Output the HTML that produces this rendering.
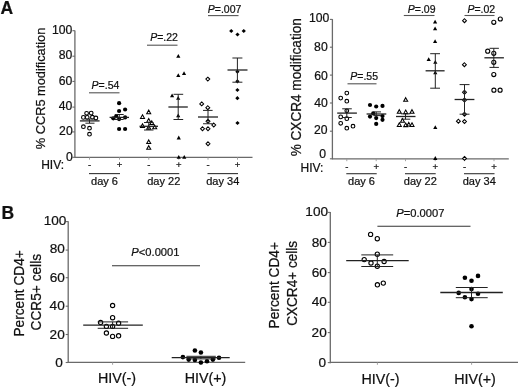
<!DOCTYPE html>
<html><head><meta charset="utf-8"><style>
html,body{margin:0;padding:0;background:#fff;}
body{width:520px;height:388px;overflow:hidden;}
svg{display:block;filter:grayscale(1) blur(0.25px);font-family:"Liberation Sans", sans-serif;fill:#111;}
text{fill:#111;stroke:#111;stroke-width:0.22px;}
</style></head><body>
<svg width="520" height="388" viewBox="0 0 520 388">
<rect width="520" height="388" fill="#fff"/>
<text x="0.5" y="13.8" font-size="17.5" text-anchor="start" font-weight="bold">A</text>
<text x="1.5" y="218.6" font-size="17.5" text-anchor="start" font-weight="bold">B</text>
<line x1="74.9" y1="157.9" x2="74.9" y2="30.4" stroke="#6a6a6a" stroke-width="1.3"/>
<line x1="72.4" y1="30.7" x2="74.9" y2="30.7" stroke="#6a6a6a" stroke-width="1.1"/>
<text x="72.38" y="33.65" font-size="12.2" text-anchor="end">100</text>
<line x1="72.4" y1="56.2" x2="74.9" y2="56.2" stroke="#6a6a6a" stroke-width="1.1"/>
<text x="72.38" y="58.8" font-size="12.2" text-anchor="end">80</text>
<line x1="72.4" y1="81.4" x2="74.9" y2="81.4" stroke="#6a6a6a" stroke-width="1.1"/>
<text x="72.38" y="84.75" font-size="12.2" text-anchor="end">60</text>
<line x1="72.4" y1="107.1" x2="74.9" y2="107.1" stroke="#6a6a6a" stroke-width="1.1"/>
<text x="72.38" y="109.55" font-size="12.2" text-anchor="end">40</text>
<line x1="72.4" y1="131.9" x2="74.9" y2="131.9" stroke="#6a6a6a" stroke-width="1.1"/>
<text x="72.68" y="135.35" font-size="12.2" text-anchor="end">20</text>
<line x1="72.4" y1="157.3" x2="74.9" y2="157.3" stroke="#6a6a6a" stroke-width="1.1"/>
<text x="72.88" y="160.75" font-size="12.2" text-anchor="end">0</text>
<line x1="74.9" y1="157.3" x2="252.5" y2="157.3" stroke="#6a6a6a" stroke-width="1.3"/>
<line x1="89.5" y1="157.3" x2="89.5" y2="159.70000000000002" stroke="#999" stroke-width="0.9"/>
<line x1="119.5" y1="157.3" x2="119.5" y2="159.70000000000002" stroke="#999" stroke-width="0.9"/>
<line x1="148.75" y1="157.3" x2="148.75" y2="159.70000000000002" stroke="#999" stroke-width="0.9"/>
<line x1="178.75" y1="157.3" x2="178.75" y2="159.70000000000002" stroke="#999" stroke-width="0.9"/>
<line x1="208" y1="157.3" x2="208" y2="159.70000000000002" stroke="#999" stroke-width="0.9"/>
<line x1="237.5" y1="157.3" x2="237.5" y2="159.70000000000002" stroke="#999" stroke-width="0.9"/>
<text transform="translate(44.6,88.45) rotate(-90) scale(1,1.045)" font-size="12.8" text-anchor="middle">% CCR5 modification</text>
<text x="41.2" y="168.8" font-size="12" text-anchor="start">HIV:</text>
<text x="89.5" y="168.0" font-size="9.5" text-anchor="middle">-</text>
<text x="119.5" y="168.0" font-size="9.5" text-anchor="middle">+</text>
<text x="148.75" y="168.0" font-size="9.5" text-anchor="middle">-</text>
<text x="178.75" y="168.0" font-size="9.5" text-anchor="middle">+</text>
<text x="208" y="168.0" font-size="9.5" text-anchor="middle">-</text>
<text x="237.5" y="168.0" font-size="9.5" text-anchor="middle">+</text>
<line x1="89.0" y1="173.6" x2="120.0" y2="173.6" stroke="#333" stroke-width="1.1"/>
<text x="104.5" y="185.0" font-size="11" text-anchor="middle">day 6</text>
<line x1="148.25" y1="173.6" x2="179.25" y2="173.6" stroke="#333" stroke-width="1.1"/>
<text x="163.75" y="185.0" font-size="11" text-anchor="middle">day 22</text>
<line x1="207.5" y1="173.6" x2="238.0" y2="173.6" stroke="#333" stroke-width="1.1"/>
<text x="222.75" y="185.0" font-size="11" text-anchor="middle">day 34</text>
<line x1="89" y1="92.8" x2="119.5" y2="92.8" stroke="#555" stroke-width="1.1"/>
<text x="91.6" y="89.4" font-size="10.5"><tspan font-style="italic">P</tspan>=.54</text>
<line x1="147" y1="45.2" x2="177.5" y2="45.2" stroke="#555" stroke-width="1.1"/>
<text x="150.2" y="41.4" font-size="10.5"><tspan font-style="italic">P</tspan>=.22</text>
<line x1="208" y1="15.6" x2="238.5" y2="15.6" stroke="#555" stroke-width="1.1"/>
<text x="207.8" y="13.2" font-size="10.5"><tspan font-style="italic">P</tspan>=.007</text>
<circle cx="86.6" cy="113.3" r="1.85" fill="#fff" stroke="#000" stroke-width="1.1"/>
<circle cx="91.2" cy="113.1" r="1.85" fill="#fff" stroke="#000" stroke-width="1.1"/>
<circle cx="83.4" cy="117.4" r="1.85" fill="#fff" stroke="#000" stroke-width="1.1"/>
<circle cx="87.2" cy="117.4" r="1.85" fill="#fff" stroke="#000" stroke-width="1.1"/>
<circle cx="92.4" cy="117.2" r="1.85" fill="#fff" stroke="#000" stroke-width="1.1"/>
<circle cx="95.9" cy="118" r="1.85" fill="#fff" stroke="#000" stroke-width="1.1"/>
<circle cx="83.4" cy="126.7" r="1.85" fill="#fff" stroke="#000" stroke-width="1.1"/>
<circle cx="89.5" cy="128.2" r="1.85" fill="#fff" stroke="#000" stroke-width="1.1"/>
<circle cx="89.5" cy="134.2" r="1.85" fill="#fff" stroke="#000" stroke-width="1.1"/>
<line x1="79.9" y1="120.9" x2="99.6" y2="120.9" stroke="#222" stroke-width="1.3"/>
<line x1="89.5" y1="119.0" x2="89.5" y2="123.2" stroke="#222" stroke-width="1.0"/>
<line x1="85.4" y1="119.0" x2="94.5" y2="119.0" stroke="#222" stroke-width="1.0"/>
<line x1="85.4" y1="123.2" x2="94.5" y2="123.2" stroke="#222" stroke-width="1.0"/>
<circle cx="119.1" cy="103.2" r="2.10" fill="#000"/>
<circle cx="119.1" cy="111" r="2.10" fill="#000"/>
<circle cx="125.1" cy="109.5" r="2.10" fill="#000"/>
<circle cx="113.3" cy="118.3" r="2.10" fill="#000"/>
<circle cx="116.2" cy="116.2" r="2.10" fill="#000"/>
<circle cx="119.1" cy="119.1" r="2.10" fill="#000"/>
<circle cx="125.1" cy="117.4" r="2.10" fill="#000"/>
<circle cx="119.1" cy="129" r="2.10" fill="#000"/>
<circle cx="125.1" cy="129" r="2.10" fill="#000"/>
<line x1="109.6" y1="117.4" x2="129" y2="117.4" stroke="#222" stroke-width="1.3"/>
<line x1="119.3" y1="114.5" x2="119.3" y2="119.5" stroke="#222" stroke-width="1.0"/>
<line x1="115" y1="114.5" x2="123.7" y2="114.5" stroke="#222" stroke-width="1.0"/>
<line x1="115" y1="119.5" x2="123.7" y2="119.5" stroke="#222" stroke-width="1.0"/>
<path d="M148.7 110.10L150.70 113.70L146.70 113.70Z" fill="#fff" stroke="#000" stroke-width="1.05"/>
<path d="M142.5 114.80L144.50 118.40L140.50 118.40Z" fill="#fff" stroke="#000" stroke-width="1.05"/>
<path d="M148.7 118.60L150.70 122.20L146.70 122.20Z" fill="#fff" stroke="#000" stroke-width="1.05"/>
<path d="M151.8 120.90L153.80 124.50L149.80 124.50Z" fill="#fff" stroke="#000" stroke-width="1.05"/>
<path d="M142.5 123.80L144.50 127.40L140.50 127.40Z" fill="#fff" stroke="#000" stroke-width="1.05"/>
<path d="M148.7 125.60L150.70 129.20L146.70 129.20Z" fill="#fff" stroke="#000" stroke-width="1.05"/>
<path d="M154.7 125.20L156.70 128.80L152.70 128.80Z" fill="#fff" stroke="#000" stroke-width="1.05"/>
<path d="M148.75 139.95L150.75 143.55L146.75 143.55Z" fill="#fff" stroke="#000" stroke-width="1.05"/>
<path d="M148.75 145.70L150.75 149.30L146.75 149.30Z" fill="#fff" stroke="#000" stroke-width="1.05"/>
<line x1="139.5" y1="126.3" x2="158" y2="126.3" stroke="#222" stroke-width="1.3"/>
<line x1="148.75" y1="122.5" x2="148.75" y2="130" stroke="#222" stroke-width="1.0"/>
<line x1="144" y1="122.5" x2="153.5" y2="122.5" stroke="#222" stroke-width="1.0"/>
<line x1="144" y1="130" x2="153.5" y2="130" stroke="#222" stroke-width="1.0"/>
<path d="M178.3 54.00L180.40 57.80L176.20 57.80Z" fill="#000"/>
<path d="M178.3 73.30L180.40 77.10L176.20 77.10Z" fill="#000"/>
<path d="M184.05 71.30L186.15 75.10L181.95 75.10Z" fill="#000"/>
<path d="M172.1 93.50L174.20 97.30L170.00 97.30Z" fill="#000"/>
<path d="M178.2 95.90L180.30 99.70L176.10 99.70Z" fill="#000"/>
<path d="M178.2 113.50L180.30 117.30L176.10 117.30Z" fill="#000"/>
<path d="M178.75 135.60L180.85 139.40L176.65 139.40Z" fill="#000"/>
<path d="M178.75 154.90L180.85 158.70L176.65 158.70Z" fill="#000"/>
<path d="M184.25 154.90L186.35 158.70L182.15 158.70Z" fill="#000"/>
<line x1="168.4" y1="107" x2="187.8" y2="107" stroke="#222" stroke-width="1.3"/>
<line x1="178.2" y1="94.3" x2="178.2" y2="119.5" stroke="#222" stroke-width="1.0"/>
<line x1="173.5" y1="94.3" x2="183.2" y2="94.3" stroke="#222" stroke-width="1.0"/>
<line x1="173.5" y1="119.5" x2="183.2" y2="119.5" stroke="#222" stroke-width="1.0"/>
<path d="M207.8 77.15L209.75 79.1L207.8 81.05L205.85 79.1Z" fill="#fff" stroke="#000" stroke-width="1.05"/>
<path d="M201.7 101.95L203.65 103.9L201.7 105.85L199.75 103.9Z" fill="#fff" stroke="#000" stroke-width="1.05"/>
<path d="M207.8 105.75L209.75 107.7L207.8 109.65L205.85 107.7Z" fill="#fff" stroke="#000" stroke-width="1.05"/>
<path d="M208 119.30L209.95 121.25L208 123.20L206.05 121.25Z" fill="#fff" stroke="#000" stroke-width="1.05"/>
<path d="M202.5 126.80L204.45 128.75L202.5 130.70L200.55 128.75Z" fill="#fff" stroke="#000" stroke-width="1.05"/>
<path d="M208 126.80L209.95 128.75L208 130.70L206.05 128.75Z" fill="#fff" stroke="#000" stroke-width="1.05"/>
<path d="M213.75 123.05L215.70 125L213.75 126.95L211.80 125Z" fill="#fff" stroke="#000" stroke-width="1.05"/>
<path d="M208 141.80L209.95 143.75L208 145.70L206.05 143.75Z" fill="#fff" stroke="#000" stroke-width="1.05"/>
<line x1="198" y1="117" x2="218" y2="117" stroke="#222" stroke-width="1.3"/>
<line x1="208" y1="110.4" x2="208" y2="123.75" stroke="#222" stroke-width="1.0"/>
<line x1="203" y1="110.4" x2="212.6" y2="110.4" stroke="#222" stroke-width="1.0"/>
<line x1="203" y1="123.75" x2="212.6" y2="123.75" stroke="#222" stroke-width="1.0"/>
<path d="M231.25 28.90L233.35 31L231.25 33.10L229.15 31Z" fill="#000"/>
<path d="M237.5 32.40L239.60 34.5L237.5 36.60L235.40 34.5Z" fill="#000"/>
<path d="M243.75 28.90L245.85 31L243.75 33.10L241.65 31Z" fill="#000"/>
<path d="M237.4 69.60L239.50 71.7L237.4 73.80L235.30 71.7Z" fill="#000"/>
<path d="M237.4 79.20L239.50 81.3L237.4 83.40L235.30 81.3Z" fill="#000"/>
<path d="M237.4 87.90L239.50 90L237.4 92.10L235.30 90Z" fill="#000"/>
<path d="M237.4 96.10L239.50 98.2L237.4 100.30L235.30 98.2Z" fill="#000"/>
<path d="M237.5 120.90L239.60 123L237.5 125.10L235.40 123Z" fill="#000"/>
<line x1="227.5" y1="70" x2="247.5" y2="70" stroke="#222" stroke-width="1.3"/>
<line x1="237.4" y1="58" x2="237.4" y2="82.2" stroke="#222" stroke-width="1.0"/>
<line x1="232.4" y1="58" x2="242.4" y2="58" stroke="#222" stroke-width="1.0"/>
<line x1="232.4" y1="82.2" x2="242.4" y2="82.2" stroke="#222" stroke-width="1.0"/>
<line x1="332.4" y1="159.4" x2="332.4" y2="19.1" stroke="#6a6a6a" stroke-width="1.3"/>
<line x1="329.9" y1="19.4" x2="332.4" y2="19.4" stroke="#6a6a6a" stroke-width="1.1"/>
<text x="329.38" y="22.15" font-size="12.2" text-anchor="end">100</text>
<line x1="329.9" y1="47.2" x2="332.4" y2="47.2" stroke="#6a6a6a" stroke-width="1.1"/>
<text x="327.68" y="50.95" font-size="12.2" text-anchor="end">80</text>
<line x1="329.9" y1="75.1" x2="332.4" y2="75.1" stroke="#6a6a6a" stroke-width="1.1"/>
<text x="327.88" y="79.75" font-size="12.2" text-anchor="end">60</text>
<line x1="329.9" y1="103" x2="332.4" y2="103" stroke="#6a6a6a" stroke-width="1.1"/>
<text x="327.78" y="107.45" font-size="12.2" text-anchor="end">40</text>
<line x1="329.9" y1="131.2" x2="332.4" y2="131.2" stroke="#6a6a6a" stroke-width="1.1"/>
<text x="327.58" y="134.45" font-size="12.2" text-anchor="end">20</text>
<line x1="329.9" y1="158.8" x2="332.4" y2="158.8" stroke="#6a6a6a" stroke-width="1.1"/>
<text x="326.08" y="158.3" font-size="12.2" text-anchor="end">0</text>
<line x1="332.4" y1="158.8" x2="508.8" y2="158.8" stroke="#6a6a6a" stroke-width="1.3"/>
<line x1="346.8" y1="158.8" x2="346.8" y2="161.20000000000002" stroke="#999" stroke-width="0.9"/>
<line x1="376.2" y1="158.8" x2="376.2" y2="161.20000000000002" stroke="#999" stroke-width="0.9"/>
<line x1="405.5" y1="158.8" x2="405.5" y2="161.20000000000002" stroke="#999" stroke-width="0.9"/>
<line x1="435.2" y1="158.8" x2="435.2" y2="161.20000000000002" stroke="#999" stroke-width="0.9"/>
<line x1="464.5" y1="158.8" x2="464.5" y2="161.20000000000002" stroke="#999" stroke-width="0.9"/>
<line x1="494" y1="158.8" x2="494" y2="161.20000000000002" stroke="#999" stroke-width="0.9"/>
<text transform="translate(301.2,87.25) rotate(-90) scale(1,1.045)" font-size="13.6" text-anchor="middle">% CXCR4 modification</text>
<text x="300.5" y="171.8" font-size="12" text-anchor="start">HIV:</text>
<text x="346.8" y="170.0" font-size="9.5" text-anchor="middle">-</text>
<text x="376.2" y="169.5" font-size="9.5" text-anchor="middle">+</text>
<text x="405.5" y="170.0" font-size="9.5" text-anchor="middle">-</text>
<text x="435.2" y="169.5" font-size="9.5" text-anchor="middle">+</text>
<text x="464.5" y="170.0" font-size="9.5" text-anchor="middle">-</text>
<text x="494" y="169.5" font-size="9.5" text-anchor="middle">+</text>
<line x1="346.3" y1="173.7" x2="376.7" y2="173.7" stroke="#333" stroke-width="1.1"/>
<text x="361.5" y="185.0" font-size="11" text-anchor="middle">day 6</text>
<line x1="405.0" y1="173.7" x2="435.7" y2="173.7" stroke="#333" stroke-width="1.1"/>
<text x="420.35" y="185.0" font-size="11" text-anchor="middle">day 22</text>
<line x1="464.0" y1="173.7" x2="494.5" y2="173.7" stroke="#333" stroke-width="1.1"/>
<text x="479.25" y="185.0" font-size="11" text-anchor="middle">day 34</text>
<line x1="347.5" y1="83.8" x2="376.5" y2="83.8" stroke="#555" stroke-width="1.1"/>
<text x="350.3" y="80.4" font-size="10.5"><tspan font-style="italic">P</tspan>=.55</text>
<line x1="403.8" y1="15.5" x2="434.5" y2="15.5" stroke="#555" stroke-width="1.1"/>
<text x="407.8" y="13.0" font-size="10.5"><tspan font-style="italic">P</tspan>=.09</text>
<line x1="464.5" y1="15.5" x2="494.5" y2="15.5" stroke="#555" stroke-width="1.1"/>
<text x="467.4" y="13.0" font-size="10.5"><tspan font-style="italic">P</tspan>=.02</text>
<circle cx="346.8" cy="93.1" r="1.85" fill="#fff" stroke="#000" stroke-width="1.1"/>
<circle cx="340.7" cy="98.1" r="1.85" fill="#fff" stroke="#000" stroke-width="1.1"/>
<circle cx="346.8" cy="101.2" r="1.85" fill="#fff" stroke="#000" stroke-width="1.1"/>
<circle cx="346.8" cy="110.8" r="1.85" fill="#fff" stroke="#000" stroke-width="1.1"/>
<circle cx="340.7" cy="116.9" r="1.85" fill="#fff" stroke="#000" stroke-width="1.1"/>
<circle cx="346.8" cy="118.7" r="1.85" fill="#fff" stroke="#000" stroke-width="1.1"/>
<circle cx="340.7" cy="123.3" r="1.85" fill="#fff" stroke="#000" stroke-width="1.1"/>
<circle cx="346.8" cy="128.2" r="1.85" fill="#fff" stroke="#000" stroke-width="1.1"/>
<circle cx="353" cy="126.2" r="1.85" fill="#fff" stroke="#000" stroke-width="1.1"/>
<line x1="337.2" y1="113.1" x2="356.9" y2="113.1" stroke="#222" stroke-width="1.3"/>
<line x1="346.8" y1="108.8" x2="346.8" y2="117.5" stroke="#222" stroke-width="1.0"/>
<line x1="342.2" y1="108.8" x2="351.8" y2="108.8" stroke="#222" stroke-width="1.0"/>
<line x1="342.2" y1="117.5" x2="351.8" y2="117.5" stroke="#222" stroke-width="1.0"/>
<circle cx="370" cy="105" r="2.10" fill="#000"/>
<circle cx="376.2" cy="106.5" r="2.10" fill="#000"/>
<circle cx="382.5" cy="105.9" r="2.10" fill="#000"/>
<circle cx="373.2" cy="113.4" r="2.10" fill="#000"/>
<circle cx="370" cy="116.6" r="2.10" fill="#000"/>
<circle cx="376.2" cy="118.1" r="2.10" fill="#000"/>
<circle cx="382.5" cy="116.1" r="2.10" fill="#000"/>
<circle cx="382.5" cy="119.8" r="2.10" fill="#000"/>
<circle cx="376.2" cy="123.9" r="2.10" fill="#000"/>
<line x1="366.6" y1="114" x2="386.3" y2="114" stroke="#222" stroke-width="1.3"/>
<line x1="376.2" y1="111.9" x2="376.2" y2="115.6" stroke="#222" stroke-width="1.0"/>
<line x1="373.5" y1="111.9" x2="381" y2="111.9" stroke="#222" stroke-width="1.0"/>
<line x1="373.5" y1="115.6" x2="381" y2="115.6" stroke="#222" stroke-width="1.0"/>
<path d="M405.7 97.70L407.70 101.30L403.70 101.30Z" fill="#fff" stroke="#000" stroke-width="1.05"/>
<path d="M399.3 109.70L401.30 113.30L397.30 113.30Z" fill="#fff" stroke="#000" stroke-width="1.05"/>
<path d="M405.7 110.00L407.70 113.60L403.70 113.60Z" fill="#fff" stroke="#000" stroke-width="1.05"/>
<path d="M412 109.70L414.00 113.30L410.00 113.30Z" fill="#fff" stroke="#000" stroke-width="1.05"/>
<path d="M402.5 118.60L404.50 122.20L400.50 122.20Z" fill="#fff" stroke="#000" stroke-width="1.05"/>
<path d="M399.3 122.80L401.30 126.40L397.30 126.40Z" fill="#fff" stroke="#000" stroke-width="1.05"/>
<path d="M405.7 123.00L407.70 126.60L403.70 126.60Z" fill="#fff" stroke="#000" stroke-width="1.05"/>
<path d="M408.8 122.40L410.80 126.00L406.80 126.00Z" fill="#fff" stroke="#000" stroke-width="1.05"/>
<path d="M412 122.80L414.00 126.40L410.00 126.40Z" fill="#fff" stroke="#000" stroke-width="1.05"/>
<line x1="396" y1="116.5" x2="415.5" y2="116.5" stroke="#222" stroke-width="1.3"/>
<line x1="405.5" y1="113.8" x2="405.5" y2="119.2" stroke="#222" stroke-width="1.0"/>
<line x1="401" y1="113.8" x2="410.3" y2="113.8" stroke="#222" stroke-width="1.0"/>
<line x1="401" y1="119.2" x2="410.3" y2="119.2" stroke="#222" stroke-width="1.0"/>
<path d="M435.1 19.80L437.20 23.60L433.00 23.60Z" fill="#000"/>
<path d="M435.1 26.40L437.20 30.20L433.00 30.20Z" fill="#000"/>
<path d="M435.1 39.20L437.20 43.00L433.00 43.00Z" fill="#000"/>
<path d="M428.7 57.30L430.80 61.10L426.60 61.10Z" fill="#000"/>
<path d="M435.3 59.90L437.40 63.70L433.20 63.70Z" fill="#000"/>
<path d="M435.3 70.40L437.40 74.20L433.20 74.20Z" fill="#000"/>
<path d="M435.3 125.20L437.40 129.00L433.20 129.00Z" fill="#000"/>
<path d="M435.3 156.10L437.40 159.90L433.20 159.90Z" fill="#000"/>
<line x1="425.6" y1="70.8" x2="444.6" y2="70.8" stroke="#222" stroke-width="1.3"/>
<line x1="435.3" y1="53.7" x2="435.3" y2="88.2" stroke="#222" stroke-width="1.0"/>
<line x1="430.2" y1="53.7" x2="440" y2="53.7" stroke="#222" stroke-width="1.0"/>
<line x1="430.2" y1="88.2" x2="440" y2="88.2" stroke="#222" stroke-width="1.0"/>
<path d="M464.5 18.75L466.45 20.7L464.5 22.65L462.55 20.7Z" fill="#fff" stroke="#000" stroke-width="1.05"/>
<path d="M464.4 62.75L466.35 64.7L464.4 66.65L462.45 64.7Z" fill="#fff" stroke="#000" stroke-width="1.05"/>
<path d="M464.5 90.25L466.45 92.2L464.5 94.15L462.55 92.2Z" fill="#fff" stroke="#000" stroke-width="1.05"/>
<path d="M464.5 98.05L466.45 100L464.5 101.95L462.55 100Z" fill="#fff" stroke="#000" stroke-width="1.05"/>
<path d="M464.5 112.25L466.45 114.2L464.5 116.15L462.55 114.2Z" fill="#fff" stroke="#000" stroke-width="1.05"/>
<path d="M458.4 119.25L460.35 121.2L458.4 123.15L456.45 121.2Z" fill="#fff" stroke="#000" stroke-width="1.05"/>
<path d="M464.5 119.55L466.45 121.5L464.5 123.45L462.55 121.5Z" fill="#fff" stroke="#000" stroke-width="1.05"/>
<path d="M464.5 156.45L466.45 158.4L464.5 160.35L462.55 158.4Z" fill="#fff" stroke="#000" stroke-width="1.05"/>
<line x1="454.6" y1="99.5" x2="474.4" y2="99.5" stroke="#222" stroke-width="1.3"/>
<line x1="464.5" y1="84.6" x2="464.5" y2="114.2" stroke="#222" stroke-width="1.0"/>
<line x1="459.6" y1="84.6" x2="469.5" y2="84.6" stroke="#222" stroke-width="1.0"/>
<line x1="459.6" y1="114.2" x2="469.5" y2="114.2" stroke="#222" stroke-width="1.0"/>
<circle cx="493.8" cy="22.3" r="2.04" fill="#fff" stroke="#000" stroke-width="1.1"/>
<circle cx="500.3" cy="19" r="2.04" fill="#fff" stroke="#000" stroke-width="1.1"/>
<circle cx="487.7" cy="51.2" r="2.04" fill="#fff" stroke="#000" stroke-width="1.1"/>
<circle cx="493.8" cy="53.3" r="2.04" fill="#fff" stroke="#000" stroke-width="1.1"/>
<circle cx="493.8" cy="62.3" r="2.04" fill="#fff" stroke="#000" stroke-width="1.1"/>
<circle cx="493.8" cy="74.6" r="2.04" fill="#fff" stroke="#000" stroke-width="1.1"/>
<circle cx="493.9" cy="90.2" r="2.04" fill="#fff" stroke="#000" stroke-width="1.1"/>
<circle cx="500.1" cy="90.2" r="2.04" fill="#fff" stroke="#000" stroke-width="1.1"/>
<line x1="484.4" y1="57.8" x2="503.9" y2="57.8" stroke="#222" stroke-width="1.3"/>
<line x1="493.8" y1="48.3" x2="493.8" y2="67.4" stroke="#222" stroke-width="1.0"/>
<line x1="489.5" y1="48.3" x2="498.9" y2="48.3" stroke="#222" stroke-width="1.0"/>
<line x1="489.5" y1="67.4" x2="498.9" y2="67.4" stroke="#222" stroke-width="1.0"/>
<line x1="68.2" y1="363.1" x2="68.2" y2="221.3" stroke="#6a6a6a" stroke-width="1.3"/>
<line x1="65.7" y1="221.6" x2="68.2" y2="221.6" stroke="#6a6a6a" stroke-width="1.1"/>
<text x="66.33" y="225.03" font-size="13.6" text-anchor="end">100</text>
<line x1="65.7" y1="250.1" x2="68.2" y2="250.1" stroke="#6a6a6a" stroke-width="1.1"/>
<text x="64.83" y="253.23" font-size="13.6" text-anchor="end">80</text>
<line x1="65.7" y1="277.7" x2="68.2" y2="277.7" stroke="#6a6a6a" stroke-width="1.1"/>
<text x="64.83" y="281.73" font-size="13.6" text-anchor="end">60</text>
<line x1="65.7" y1="306.2" x2="68.2" y2="306.2" stroke="#6a6a6a" stroke-width="1.1"/>
<text x="64.73" y="310.33" font-size="13.6" text-anchor="end">40</text>
<line x1="65.7" y1="334.5" x2="68.2" y2="334.5" stroke="#6a6a6a" stroke-width="1.1"/>
<text x="64.73" y="338.63" font-size="13.6" text-anchor="end">20</text>
<line x1="65.7" y1="362.5" x2="68.2" y2="362.5" stroke="#6a6a6a" stroke-width="1.1"/>
<text x="62.73" y="366.93" font-size="13.6" text-anchor="end">0</text>
<line x1="68.2" y1="362.4" x2="245.2" y2="362.4" stroke="#6a6a6a" stroke-width="1.3"/>
<line x1="112.6" y1="362.4" x2="112.6" y2="364.79999999999995" stroke="#999" stroke-width="0.9"/>
<line x1="200.9" y1="362.4" x2="200.9" y2="364.79999999999995" stroke="#999" stroke-width="0.9"/>
<text transform="translate(23.6,293.35) rotate(-90) scale(1,1.045)" font-size="13.7" text-anchor="middle">Percent CD4+</text>
<text transform="translate(41.4,292.2) rotate(-90) scale(1,1.045)" font-size="13.7" text-anchor="middle">CCR5+ cells</text>
<text x="117.0" y="383.1" font-size="14.3" text-anchor="middle">HIV(-)</text>
<text x="205.5" y="383.0" font-size="14.3" text-anchor="middle">HIV(+)</text>
<line x1="112" y1="265.8" x2="200" y2="265.8" stroke="#333" stroke-width="1.1"/>
<text x="131.3" y="256.3" font-size="11.2"><tspan font-style="italic">P</tspan>&lt;0.0001</text>
<circle cx="112.6" cy="305.5" r="2.13" fill="#fff" stroke="#000" stroke-width="1.1"/>
<circle cx="112.6" cy="317.7" r="2.13" fill="#fff" stroke="#000" stroke-width="1.1"/>
<circle cx="100.6" cy="322.5" r="2.13" fill="#fff" stroke="#000" stroke-width="1.1"/>
<circle cx="118.6" cy="323.3" r="2.13" fill="#fff" stroke="#000" stroke-width="1.1"/>
<circle cx="106.4" cy="326.4" r="2.13" fill="#fff" stroke="#000" stroke-width="1.1"/>
<circle cx="112.6" cy="326.4" r="2.13" fill="#fff" stroke="#000" stroke-width="1.1"/>
<circle cx="106.4" cy="333" r="2.13" fill="#fff" stroke="#000" stroke-width="1.1"/>
<circle cx="112.6" cy="336.4" r="2.13" fill="#fff" stroke="#000" stroke-width="1.1"/>
<circle cx="118.6" cy="335.8" r="2.13" fill="#fff" stroke="#000" stroke-width="1.1"/>
<line x1="83.2" y1="325.2" x2="142.8" y2="325.2" stroke="#222" stroke-width="1.3"/>
<line x1="112.6" y1="321.9" x2="112.6" y2="328.3" stroke="#222" stroke-width="1.0"/>
<line x1="97.7" y1="321.9" x2="128.1" y2="321.9" stroke="#222" stroke-width="1.0"/>
<line x1="97.7" y1="328.3" x2="128.1" y2="328.3" stroke="#222" stroke-width="1.0"/>
<circle cx="194.9" cy="350.5" r="2.31" fill="#000"/>
<circle cx="200.9" cy="352.5" r="2.31" fill="#000"/>
<circle cx="182.9" cy="357.1" r="2.31" fill="#000"/>
<circle cx="219" cy="357.7" r="2.31" fill="#000"/>
<circle cx="188.7" cy="359.6" r="2.31" fill="#000"/>
<circle cx="194.9" cy="360" r="2.31" fill="#000"/>
<circle cx="207" cy="361.2" r="2.31" fill="#000"/>
<circle cx="212.9" cy="359.6" r="2.31" fill="#000"/>
<circle cx="200.9" cy="362.5" r="2.31" fill="#000"/>
<line x1="171.7" y1="357.7" x2="229.7" y2="357.7" stroke="#222" stroke-width="1.3"/>
<line x1="200.9" y1="356.3" x2="200.9" y2="358.9" stroke="#222" stroke-width="1.0"/>
<line x1="186.4" y1="356.3" x2="215.8" y2="356.3" stroke="#222" stroke-width="1.0"/>
<line x1="186.4" y1="358.9" x2="215.8" y2="358.9" stroke="#222" stroke-width="1.0"/>
<line x1="330.3" y1="363.20000000000005" x2="330.3" y2="212.1" stroke="#6a6a6a" stroke-width="1.3"/>
<line x1="327.8" y1="212.4" x2="330.3" y2="212.4" stroke="#6a6a6a" stroke-width="1.1"/>
<text x="328.03" y="215.98" font-size="13.6" text-anchor="end">100</text>
<line x1="327.8" y1="242.4" x2="330.3" y2="242.4" stroke="#6a6a6a" stroke-width="1.1"/>
<text x="326.93" y="246.73" font-size="13.6" text-anchor="end">80</text>
<line x1="327.8" y1="272.6" x2="330.3" y2="272.6" stroke="#6a6a6a" stroke-width="1.1"/>
<text x="326.93" y="276.68" font-size="13.6" text-anchor="end">60</text>
<line x1="327.8" y1="302.3" x2="330.3" y2="302.3" stroke="#6a6a6a" stroke-width="1.1"/>
<text x="326.83" y="306.43" font-size="13.6" text-anchor="end">40</text>
<line x1="327.8" y1="332.6" x2="330.3" y2="332.6" stroke="#6a6a6a" stroke-width="1.1"/>
<text x="326.73" y="336.93" font-size="13.6" text-anchor="end">20</text>
<line x1="327.8" y1="362.6" x2="330.3" y2="362.6" stroke="#6a6a6a" stroke-width="1.1"/>
<text x="326.03" y="367.33" font-size="13.6" text-anchor="end">0</text>
<line x1="330.3" y1="362.4" x2="518" y2="362.4" stroke="#6a6a6a" stroke-width="1.3"/>
<line x1="377.4" y1="362.4" x2="377.4" y2="364.79999999999995" stroke="#999" stroke-width="0.9"/>
<line x1="471.6" y1="362.4" x2="471.6" y2="364.79999999999995" stroke="#999" stroke-width="0.9"/>
<text transform="translate(279.1,285.25) rotate(-90) scale(1,1.045)" font-size="13.7" text-anchor="middle">Percent CD4+</text>
<text transform="translate(296.6,283.4) rotate(-90) scale(1,1.045)" font-size="13.6" text-anchor="middle">CXCR4+ cells</text>
<text x="380.5" y="383.7" font-size="14.3" text-anchor="middle">HIV(-)</text>
<text x="475.0" y="383.8" font-size="14.3" text-anchor="middle">HIV(+)</text>
<line x1="377.4" y1="226.2" x2="470.5" y2="226.2" stroke="#333" stroke-width="1.1"/>
<text x="396.2" y="216.6" font-size="11.2"><tspan font-style="italic">P</tspan>=0.0007</text>
<circle cx="370.6" cy="234.4" r="2.13" fill="#fff" stroke="#000" stroke-width="1.1"/>
<circle cx="377.3" cy="238.7" r="2.13" fill="#fff" stroke="#000" stroke-width="1.1"/>
<circle cx="377.3" cy="254.2" r="2.13" fill="#fff" stroke="#000" stroke-width="1.1"/>
<circle cx="364.2" cy="259.6" r="2.13" fill="#fff" stroke="#000" stroke-width="1.1"/>
<circle cx="384.1" cy="261.5" r="2.13" fill="#fff" stroke="#000" stroke-width="1.1"/>
<circle cx="371" cy="263" r="2.13" fill="#fff" stroke="#000" stroke-width="1.1"/>
<circle cx="377.3" cy="266.2" r="2.13" fill="#fff" stroke="#000" stroke-width="1.1"/>
<circle cx="377.4" cy="284.8" r="2.13" fill="#fff" stroke="#000" stroke-width="1.1"/>
<circle cx="383.3" cy="283.1" r="2.13" fill="#fff" stroke="#000" stroke-width="1.1"/>
<line x1="346.2" y1="260.7" x2="408.7" y2="260.7" stroke="#222" stroke-width="1.3"/>
<line x1="377.3" y1="254.9" x2="377.3" y2="266.5" stroke="#222" stroke-width="1.0"/>
<line x1="361.3" y1="254.9" x2="393.2" y2="254.9" stroke="#222" stroke-width="1.0"/>
<line x1="361.3" y1="266.5" x2="393.2" y2="266.5" stroke="#222" stroke-width="1.0"/>
<circle cx="464.9" cy="277.8" r="2.31" fill="#000"/>
<circle cx="478" cy="275.9" r="2.31" fill="#000"/>
<circle cx="471.5" cy="280.7" r="2.31" fill="#000"/>
<circle cx="471.5" cy="289" r="2.31" fill="#000"/>
<circle cx="458.7" cy="292.9" r="2.31" fill="#000"/>
<circle cx="478" cy="293.8" r="2.31" fill="#000"/>
<circle cx="464.9" cy="297.3" r="2.31" fill="#000"/>
<circle cx="471.5" cy="299.1" r="2.31" fill="#000"/>
<circle cx="471.5" cy="326.2" r="2.31" fill="#000"/>
<line x1="440.3" y1="292.5" x2="502.8" y2="292.5" stroke="#222" stroke-width="1.3"/>
<line x1="471.5" y1="287.5" x2="471.5" y2="297.7" stroke="#222" stroke-width="1.0"/>
<line x1="455.8" y1="287.5" x2="487.7" y2="287.5" stroke="#222" stroke-width="1.0"/>
<line x1="455.8" y1="297.7" x2="487.7" y2="297.7" stroke="#222" stroke-width="1.0"/>
</svg>
</body></html>
